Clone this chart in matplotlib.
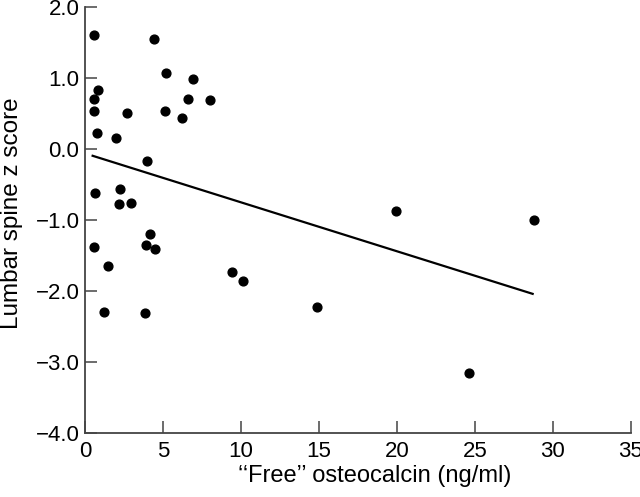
import numpy as np
import matplotlib
matplotlib.use("Agg")
import matplotlib.pyplot as plt

plt.rcParams['font.family'] = ['Liberation Sans', 'DejaVu Sans']

# free osteocalcin (ng/ml) vs lumbar spine z score
osteocalcin = [0.6, 4.42, 5.17, 6.94, 0.81, 0.6, 6.62, 8.01, 0.6, 2.71, 5.13,
               6.2, 0.79, 1.97, 3.99, 0.64, 2.24, 2.15, 2.93, 4.17, 0.56, 3.91,
               4.49, 1.5, 1.24, 3.82, 9.42, 10.1, 14.9, 24.6, 19.93, 28.76]
zscore = [1.61, 1.55, 1.07, 0.99, 0.83, 0.71, 0.70, 0.69, 0.54, 0.51, 0.54,
          0.44, 0.23, 0.15, -0.17, -0.62, -0.56, -0.77, -0.76, -1.19, -1.38,
          -1.35, -1.41, -1.65, -2.30, -2.31, -1.73, -1.86, -2.23, -3.15,
          -0.87, -1.00]

# regression line end points
fit_x = [0.49, 28.7]
fit_y = [-0.095, -2.04]

xticks = [0, 5, 10, 15, 20, 25, 30, 35]
yticks = [-4.0, -3.0, -2.0, -1.0, 0.0, 1.0, 2.0]

fig = plt.figure(figsize=(6.4, 4.97), dpi=100)
ax = fig.add_axes([0.1328, 0.1288, 0.853, 0.857])

ax.scatter(osteocalcin, zscore, s=40, color='black', zorder=3)
ax.plot(fit_x, fit_y, color='black', lw=1.6)

ax.set_xlim(0, 35)
ax.set_ylim(-4, 2)
ax.set_xticks(xticks)
ax.set_yticks(yticks)
ax.set_yticklabels([f"{v:.1f}".replace('-', '\u2212') for v in yticks])

for s in ['top', 'right']:
    ax.spines[s].set_visible(False)
for s in ['left', 'bottom']:
    ax.spines[s].set_color('#444444')
    ax.spines[s].set_linewidth(1.3)

ax.tick_params(direction='in', length=8.5, width=1.1, color='#444444',
               labelsize=16, labelcolor='black')
ax.tick_params(axis='x', pad=6)
ax.tick_params(axis='y', pad=4)

ax.set_xlabel('\u2018\u2018Free\u2019\u2019 osteocalcin (ng/ml)', fontsize=17)
ax.set_ylabel('Lumbar spine z score', fontsize=17.5)
ax.xaxis.set_label_coords(0.531, -0.075)
ax.yaxis.set_label_coords(-0.113, 0.517)

fig.savefig('out.png', dpi=100)
